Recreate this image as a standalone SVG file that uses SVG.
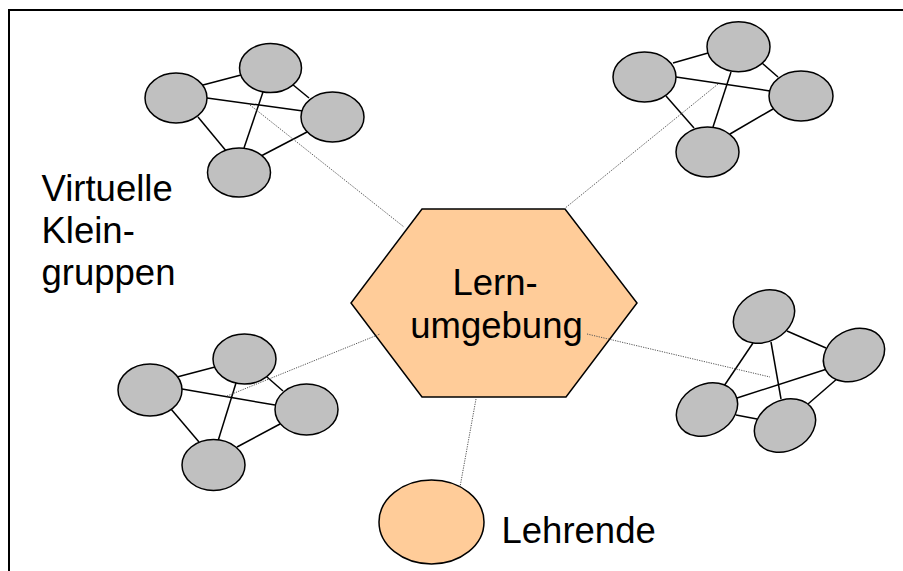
<svg xmlns="http://www.w3.org/2000/svg" width="903" height="571" viewBox="0 0 903 571">
<style>
.m{fill:#c0c0c0;stroke:#000;stroke-width:1.5}
.e{stroke:#000;stroke-width:1.5;fill:none}
.d{stroke:#555;stroke-width:1;stroke-dasharray:1.2 1.2;fill:none}
.o{fill:#ffcc99;stroke:#000;stroke-width:1.5}
.t{font-family:"Liberation Sans",Arial,sans-serif;font-size:36.5px;fill:#000}
</style>
<rect width="903" height="571" fill="#fff"/>
<path d="M9 580 V10 H910" fill="none" stroke="#000" stroke-width="2"/>
<g id="cluster-top-left">
<line class="e" x1="203" y1="85" x2="241" y2="75"/>
<line class="e" x1="207" y1="98" x2="303" y2="111"/>
<line class="e" x1="198" y1="117" x2="227" y2="152"/>
<line class="e" x1="263" y1="92" x2="244" y2="148"/>
<line class="e" x1="292" y1="84" x2="309" y2="98"/>
<line class="e" x1="307" y1="132" x2="261" y2="156"/>
<ellipse class="m" cx="176" cy="98" rx="31" ry="25"/>
<ellipse class="m" cx="270.5" cy="68" rx="31" ry="24.5"/>
<ellipse class="m" cx="332.5" cy="117" rx="31.5" ry="25"/>
<ellipse class="m" cx="239" cy="172.5" rx="31.5" ry="24.5"/>
</g>
<g id="cluster-top-right">
<line class="e" x1="673" y1="63" x2="708" y2="53"/>
<line class="e" x1="676" y1="77" x2="770" y2="91"/>
<line class="e" x1="666" y1="96" x2="694" y2="128"/>
<line class="e" x1="731" y1="72" x2="713" y2="127"/>
<line class="e" x1="762" y1="63" x2="778" y2="77"/>
<line class="e" x1="773" y1="109" x2="730" y2="134"/>
<ellipse class="m" cx="644.5" cy="77" rx="31.5" ry="25"/>
<ellipse class="m" cx="738.5" cy="46.7" rx="31.5" ry="25"/>
<ellipse class="m" cx="801" cy="96" rx="32" ry="25"/>
<ellipse class="m" cx="707.5" cy="152" rx="31.5" ry="25"/>
</g>
<g id="cluster-bottom-left">
<line class="e" x1="177" y1="377" x2="215" y2="367"/>
<line class="e" x1="182" y1="389" x2="275" y2="405"/>
<line class="e" x1="171" y1="409" x2="199" y2="442"/>
<line class="e" x1="236" y1="383" x2="218" y2="441"/>
<line class="e" x1="267" y1="377" x2="283" y2="391"/>
<line class="e" x1="280" y1="424" x2="237" y2="447"/>
<ellipse class="m" cx="150" cy="390" rx="32" ry="26"/>
<ellipse class="m" cx="244.5" cy="359" rx="31.5" ry="25"/>
<ellipse class="m" cx="306.5" cy="409.5" rx="31.5" ry="25.5"/>
<ellipse class="m" cx="213.5" cy="465" rx="31.5" ry="25.5"/>
</g>
<g id="cluster-bottom-right">
<line class="e" x1="753" y1="343" x2="724" y2="386"/>
<line class="e" x1="771" y1="342" x2="781" y2="399"/>
<line class="e" x1="787" y1="331" x2="826" y2="348"/>
<line class="e" x1="737" y1="398" x2="827" y2="369"/>
<line class="e" x1="736" y1="415" x2="757" y2="419"/>
<line class="e" x1="838" y1="378" x2="808" y2="404"/>
<ellipse class="m" cx="0" cy="0" rx="32" ry="25" transform="translate(764 316.5) rotate(-28)"/>
<ellipse class="m" cx="0" cy="0" rx="32" ry="25" transform="translate(854 355) rotate(-28)"/>
<ellipse class="m" cx="0" cy="0" rx="32" ry="25" transform="translate(707 409.5) rotate(-28)"/>
<ellipse class="m" cx="0" cy="0" rx="32" ry="25" transform="translate(785 425.5) rotate(-28)"/>
</g>
<g id="lernumgebung">
<polygon class="o" points="422,209 565,209 637,303 566,397 422,397 351,303"/>
<text class="t" x="495" y="295" text-anchor="middle">Lern-</text>
<text class="t" x="496.5" y="338" text-anchor="middle">umgebung</text>
</g>
<g id="lehrende">
<ellipse class="o" cx="431.5" cy="522" rx="52.5" ry="42"/>
<text class="t" x="501.5" y="543">Lehrende</text>
</g>
<g id="label-kleingruppen">
<text class="t" x="41.5" y="200.5">Virtuelle</text>
<text class="t" x="41.5" y="243">Klein-</text>
<text class="t" x="41.5" y="285">gruppen</text>
</g>
<g id="connectors">
<line class="d" x1="250" y1="105" x2="404" y2="227"/>
<line class="d" x1="718" y1="84" x2="564" y2="209"/>
<line class="d" x1="227" y1="396" x2="380" y2="334"/>
<line class="d" x1="587" y1="334" x2="770" y2="377"/>
<line class="d" x1="476" y1="399" x2="460" y2="487"/>
</g>
</svg>
